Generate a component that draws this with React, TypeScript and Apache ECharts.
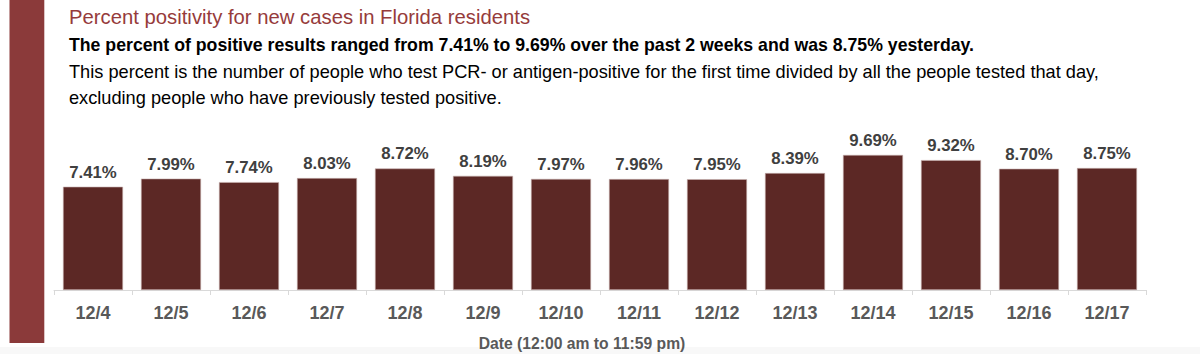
import React, { useEffect, useRef } from "react";
import * as echarts from "echarts";

const categories = ["12/4", "12/5", "12/6", "12/7", "12/8", "12/9", "12/10", "12/11", "12/12", "12/13", "12/14", "12/15", "12/16", "12/17"];
const positivity = [7.41, 7.99, 7.74, 8.03, 8.72, 8.19, 7.97, 7.96, 7.95, 8.39, 9.69, 9.32, 8.7, 8.75];

const titleText = "Percent positivity for new cases in Florida residents";
const subtitleText = "The percent of positive results ranged from 7.41% to 9.69% over the past 2 weeks and was 8.75% yesterday.";
const noteLine1 = "This percent is the number of people who test PCR- or antigen-positive for the first time divided by all the people tested that day,";
const noteLine2 = "excluding people who have previously tested positive.";
const axisTitle = "Date (12:00 am to 11:59 pm)";

const FONT = "'Liberation Sans', Arial, sans-serif";

export default function App() {
  const ref = useRef<HTMLDivElement>(null);
  useEffect(() => {
    document.body.style.margin = "0";
    const chart = echarts.init(ref.current!, null, { renderer: "svg" });
    chart.setOption({
      animation: false,
      backgroundColor: "#ffffff",
      grid: { left: 54, right: 54, top: 150.6, bottom: 64, containLabel: false },
      xAxis: {
        type: "category",
        data: categories,
        axisLine: { show: true, lineStyle: { color: "#d9d9d9", width: 1 } },
        axisTick: { show: true, length: 5, lineStyle: { color: "#d9d9d9" } },
        axisLabel: { color: "#595959", fontSize: 18, fontWeight: "bold", fontFamily: FONT, margin: 14 },
      },
      yAxis: {
        type: "value",
        min: 0,
        max: 10,
        show: false,
        splitLine: { show: false },
      },
      series: [
        {
          type: "bar",
          data: positivity,
          barCategoryGap: "23%",
          itemStyle: { color: "#5c2825", borderColor: "#c9b3b1", borderWidth: 0.6 },
          label: {
            show: true,
            position: "top",
            distance: 6,
            color: "#404040",
            fontSize: 16.8,
            fontWeight: "bold",
            fontFamily: FONT,
            formatter: (p: any) => p.value.toFixed(2) + "%",
          },
        },
      ],
      graphic: [
        { type: "rect", shape: { x: 0, y: 347, width: 1200, height: 7 }, style: { fill: "#f8f8f8" }, silent: true },
        { type: "rect", shape: { x: 9.5, y: 0, width: 34.8, height: 343 }, style: { fill: "#8b3a3a" }, silent: true },
        {
          type: "text",
          x: 69,
          y: 17,
          style: { text: titleText, fill: "#963b3b", font: `20.3px ${FONT}`, textVerticalAlign: "middle" },
        },
        {
          type: "text",
          x: 69,
          y: 45,
          style: { text: subtitleText, fill: "#000000", font: `bold 17.7px ${FONT}`, textVerticalAlign: "middle" },
        },
        {
          type: "text",
          x: 69,
          y: 72,
          style: { text: noteLine1, fill: "#000000", font: `18.2px ${FONT}`, textVerticalAlign: "middle" },
        },
        {
          type: "text",
          x: 69,
          y: 98,
          style: { text: noteLine2, fill: "#000000", font: `18.2px ${FONT}`, textVerticalAlign: "middle" },
        },
        {
          type: "text",
          x: 582,
          y: 343,
          style: { text: axisTitle, fill: "#595959", font: `bold 15.7px ${FONT}`, textAlign: "center", textVerticalAlign: "middle" },
        },
      ],
    });
    return () => chart.dispose();
  }, []);
  return <div ref={ref} style={{ width: 1200, height: 354 }} />;
}
